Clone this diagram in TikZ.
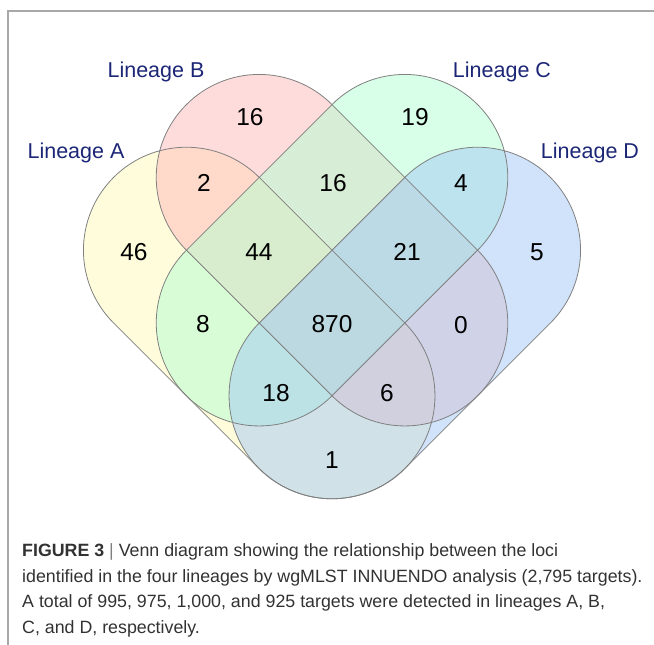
\documentclass[tikz,border=0pt]{standalone}
\usepackage{fontspec}
\setmainfont{Liberation Sans}
\usetikzlibrary{calc}
\definecolor{cA}{RGB}{255,250,185}
\definecolor{cB}{RGB}{255,185,185}
\definecolor{cC}{RGB}{178,255,208}
\definecolor{cD}{RGB}{162,200,246}
\definecolor{edge}{RGB}{128,128,128}
\definecolor{lab}{RGB}{28,38,118}
\definecolor{frame}{RGB}{168,168,168}
\definecolor{captxt}{RGB}{50,50,50}
\begin{document}
\begin{tikzpicture}[x=1bp,y=1bp,
  setfill/.style={fill=#1,fill opacity=0.5,draw=none},
  setline/.style={draw=edge,line width=0.8bp},
  setlabel/.style={text=lab,font=\fontsize{21.5bp}{24bp}\selectfont,inner sep=0pt},
  count/.style={text=black,font=\fontsize{24.5bp}{28bp}\selectfont,inner sep=0pt},
  captline/.style={text=captxt,font=\fontsize{17.8bp}{20bp}\selectfont,inner sep=0pt,anchor=base west}]
\useasboundingbox (0,0) rectangle (654,645);
\def\r{102.96}
% cap centres
\coordinate (O) at (332,322);
\coordinate (A1) at (186.4,394.8); \coordinate (A2) at (332,249.2);
\coordinate (B1) at (259.2,467.6); \coordinate (B2) at (404.8,322);
\coordinate (C1) at (404.8,467.6); \coordinate (C2) at (259.2,322);
\coordinate (D1) at (477.6,394.8); \coordinate (D2) at (332,249.2);
\def\pathA{(A1) ++(45:\r) arc[start angle=45,end angle=225,radius=\r] -- ($(A2)+(225:\r)$) arc[start angle=225,end angle=405,radius=\r] -- cycle}
\def\pathB{(B1) ++(45:\r) arc[start angle=45,end angle=225,radius=\r] -- ($(B2)+(225:\r)$) arc[start angle=225,end angle=405,radius=\r] -- cycle}
\def\pathC{(C1) ++(315:\r) arc[start angle=315,end angle=495,radius=\r] -- ($(C2)+(135:\r)$) arc[start angle=135,end angle=315,radius=\r] -- cycle}
\def\pathD{(D1) ++(315:\r) arc[start angle=315,end angle=495,radius=\r] -- ($(D2)+(135:\r)$) arc[start angle=135,end angle=315,radius=\r] -- cycle}
\path[setfill=cA] \pathA;
\path[setfill=cB] \pathB;
\path[setfill=cC] \pathC;
\path[setfill=cD] \pathD;
\path[setline] \pathA;
\path[setline] \pathB;
\path[setline] \pathC;
\path[setline] \pathD;
% frame
\draw[frame,line width=1.5bp] (8,0) -- (8,634) -- (654,634);
% set labels
\node[setlabel] (labA) at (76,492) {Lineage A};
\node[setlabel] (labB) at (156,573) {Lineage B};
\node[setlabel] (labC) at (502,573) {Lineage C};
\node[setlabel] (labD) at (590,492) {Lineage D};
% counts
\node[count] (nB) at (250,528) {16};
\node[count] (nC) at (415,528) {19};
\node[count] (nAB) at (204,462) {2};
\node[count] (nBC) at (333,462) {16};
\node[count] (nCD) at (461,462) {4};
\node[count] (nA) at (134,393) {46};
\node[count] (nABC) at (259,393) {44};
\node[count] (nBCD) at (407,393) {21};
\node[count] (nD) at (537,393) {5};
\node[count] (nAC) at (203,321) {8};
\node[count] (nABCD) at (332,321) {870};
\node[count] (nBD) at (461,320) {0};
\node[count] (nACD) at (276,252) {18};
\node[count] (nABD) at (387,252) {6};
\node[count] (nAD) at (332,185) {1};
% caption
\node[captline] (cap1) at (22,88) {\textbf{FIGURE 3} {\color{gray}|} Venn diagram showing the relationship between the loci};
\node[captline] (cap2) at (22,62.5) {identified in the four lineages by wgMLST INNUENDO analysis (2,795 targets).};
\node[captline] (cap3) at (22,37) {A total of 995, 975, 1,000, and 925 targets were detected in lineages A, B,};
\node[captline] (cap4) at (22,11.5) {C, and D, respectively.};
\end{tikzpicture}
\end{document}
